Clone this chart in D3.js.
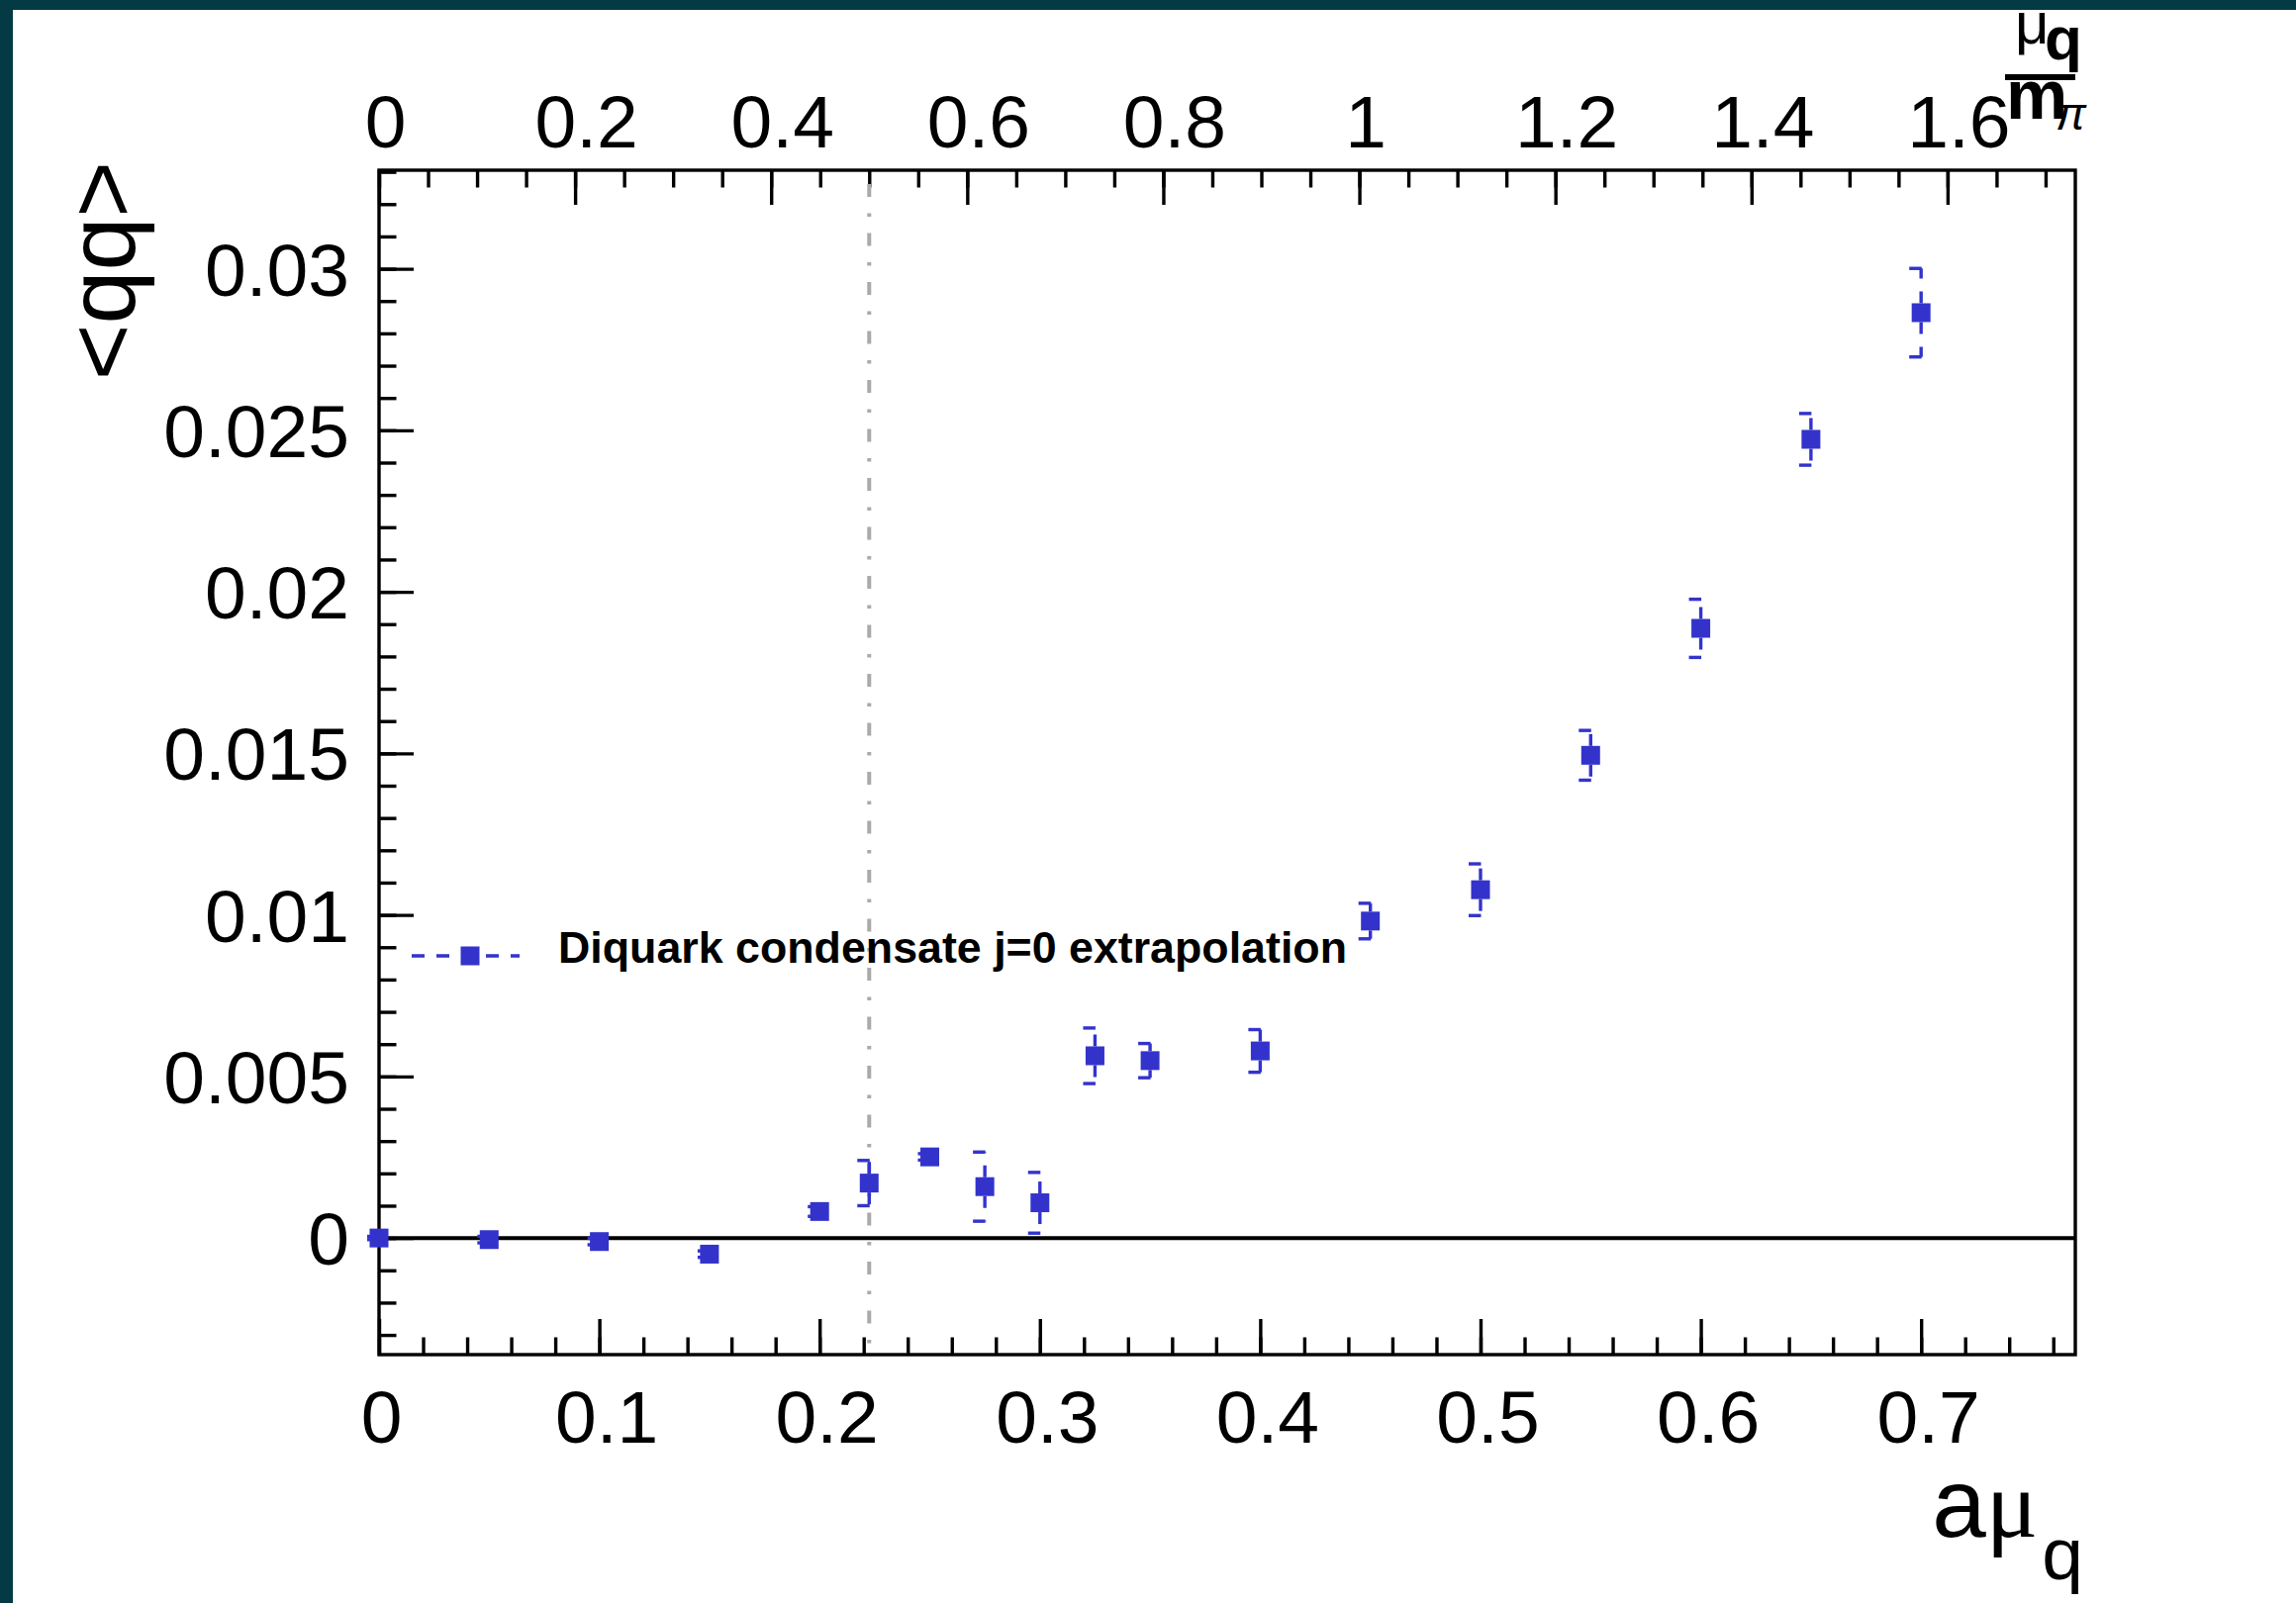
<!DOCTYPE html>
<html>
<head>
<meta charset="utf-8">
<script src="https://cdn.jsdelivr.net/npm/d3@7"></script>
<style>
  html, body { margin: 0; padding: 0; background: #ffffff; }
  svg { display: block; }
  text { font-family: "Liberation Sans", Arial, Helvetica, sans-serif; }
</style>
</head>
<body>
<svg id="chart" width="2320" height="1620"></svg>
<script>
// ---------------- data ----------------
const amuValues = [0, 0.05, 0.1, 0.15, 0.2, 0.2225, 0.25, 0.275, 0.3, 0.325, 0.35, 0.4, 0.45, 0.5, 0.55, 0.6, 0.65, 0.7];
const condensateValues = [0, -0.00005, -0.00011, -0.0005, 0.00082, 0.0017, 0.00251, 0.00159, 0.00109, 0.00564, 0.00549, 0.00579, 0.00981, 0.01078, 0.01494, 0.01887, 0.02472, 0.02864];
const condensateErrors = [0.00005, 0.0001, 0.0001, 0.0001, 0.00015, 0.0007, 0.0001, 0.00107, 0.00094, 0.00086, 0.00053, 0.00066, 0.00055, 0.0008, 0.00077, 0.0009, 0.0008, 0.00137];
const bottomTickLabels = [0, 0.1, 0.2, 0.3, 0.4, 0.5, 0.6, 0.7];
const topTickLabels = [0, 0.2, 0.4, 0.6, 0.8, 1, 1.2, 1.4, 1.6];
const leftTickLabels = [0, 0.005, 0.01, 0.015, 0.02, 0.025, 0.03];
const amPi = 0.445;            // conversion a*m_pi between the bottom and top axes
const halfPionLine = [0.5];    // mu_q / m_pi = 1/2
const legendLabel = "Diquark condensate j=0 extrapolation";

// ---------------- layout ----------------
const W = 2320, H = 1620;
const frame = { left: 383, right: 2097, top: 172, bottom: 1369 };
const blue = "#3333cc";
const lw = 3.4;

const svg = d3.select("#chart");
svg.append("rect").attr("width", W).attr("height", H).attr("fill", "#ffffff");

const xMax = 0.77;
const x = d3.scaleLinear().domain([0, xMax]).range([frame.left, frame.right]);
const xTop = d3.scaleLinear().domain([0, xMax / amPi]).range([frame.left, frame.right]);
const y = d3.scaleLinear().domain([-0.00361, 0.03305]).range([frame.bottom, frame.top]);

const fmtY = d => d === 0 ? "0" : String(+d.toFixed(3));
const fmtX = d => d === 0 ? "0" : String(+d.toFixed(2));

function styleAxis(g, fontSize) {
  g.select(".domain").remove();
  g.selectAll(".tick line").attr("stroke", "#000").attr("stroke-width", lw);
  g.selectAll(".tick text").attr("fill", "#000").attr("font-size", fontSize);
}

// minor ticks
const minorBottom = d3.range(0, 39).map(i => i * 0.02).filter(v => v <= xMax + 1e-9);
const minorTop = d3.range(0, 35).map(i => i * 0.05).filter(v => v <= xMax / amPi + 1e-9);
const minorLeft = d3.range(-3, 34).map(i => i * 0.001);

// bottom axis
const gB = svg.append("g").attr("transform", `translate(0,${frame.bottom})`)
  .call(d3.axisBottom(x).tickValues(bottomTickLabels).tickSize(-36).tickPadding(36).tickFormat(fmtX));
styleAxis(gB, 75);
gB.selectAll(".tick text").attr("dx", function () { return this.textContent.length > 1 ? 7 : 2; });
const gBm = svg.append("g").attr("transform", `translate(0,${frame.bottom})`)
  .call(d3.axisBottom(x).tickValues(minorBottom).tickSize(-17.5).tickFormat(""));
styleAxis(gBm, 75);

// top axis
const gT = svg.append("g").attr("transform", `translate(0,${frame.top})`)
  .call(d3.axisTop(xTop).tickValues(topTickLabels).tickSize(-35).tickPadding(23).tickFormat(fmtX));
styleAxis(gT, 75);
gT.selectAll(".tick text").attr("dx", function () { return this.textContent.length > 1 ? 11 : 6; });
const gTm = svg.append("g").attr("transform", `translate(0,${frame.top})`)
  .call(d3.axisTop(xTop).tickValues(minorTop).tickSize(-17.5).tickFormat(""));
styleAxis(gTm, 75);

// left axis
const gL = svg.append("g").attr("transform", `translate(${frame.left},0)`)
  .call(d3.axisLeft(y).tickValues(leftTickLabels).tickSize(-35).tickPadding(30).tickFormat(fmtY));
styleAxis(gL, 75);
gL.selectAll(".tick text").attr("dy", "0.355em");
const gLm = svg.append("g").attr("transform", `translate(${frame.left},0)`)
  .call(d3.axisLeft(y).tickValues(minorLeft).tickSize(-17.5).tickFormat(""));
styleAxis(gLm, 75);

// frame
svg.append("rect")
  .attr("x", frame.left).attr("y", frame.top)
  .attr("width", frame.right - frame.left).attr("height", frame.bottom - frame.top)
  .attr("fill", "none").attr("stroke", "#000").attr("stroke-width", lw);

// zero line
svg.append("line")
  .attr("x1", frame.left).attr("x2", frame.right)
  .attr("y1", y(0)).attr("y2", y(0))
  .attr("stroke", "#000").attr("stroke-width", 4);

// vertical dash-dotted line at mu/m_pi = 0.5
svg.selectAll(".halfline").data(halfPionLine).enter().append("line")
  .attr("x1", d => xTop(d)).attr("x2", d => xTop(d))
  .attr("y1", frame.top + 14).attr("y2", frame.bottom)
  .attr("stroke", "#aaaaaa").attr("stroke-width", 4)
  .attr("stroke-dasharray", "13,16.5,3.5,16.5");

// data
const points = amuValues.map((v, i) => ({ x: v, y: condensateValues[i], e: condensateErrors[i] }));
const ms = 19, half = ms / 2, cap = 12;
const gErr = svg.append("g");
points.forEach(p => {
  const cx = x(p.x), cy = y(p.y);
  const yHi = y(p.y + p.e), yLo = y(p.y - p.e);
  if (cy - yHi > half) {
    gErr.append("line").attr("x1", cx).attr("x2", cx).attr("y1", cy - half).attr("y2", yHi)
      .attr("stroke", blue).attr("stroke-width", lw).attr("stroke-dasharray", "12,13");
    gErr.append("line").attr("x1", cx).attr("x2", cx).attr("y1", cy + half).attr("y2", yLo)
      .attr("stroke", blue).attr("stroke-width", lw).attr("stroke-dasharray", "12,13");
  }
  [yHi, yLo].forEach(yy => {
    gErr.append("line").attr("x1", cx - cap).attr("x2", cx + cap).attr("y1", yy).attr("y2", yy)
      .attr("stroke", blue).attr("stroke-width", lw).attr("stroke-dasharray", "12.5,13");
  });
});
svg.append("g").selectAll("rect").data(points).enter().append("rect")
  .attr("x", d => x(d.x) - half).attr("y", d => y(d.y) - half)
  .attr("width", ms).attr("height", ms).attr("fill", blue);

// legend
const lgY = 966, lgX0 = 416, lgX1 = 525, lgMx = 475;
svg.append("line").attr("x1", lgX0).attr("x2", lgX1).attr("y1", lgY).attr("y2", lgY)
  .attr("stroke", blue).attr("stroke-width", lw).attr("stroke-dasharray", "13,12");
svg.append("rect").attr("x", lgMx - half).attr("y", lgY - half).attr("width", ms).attr("height", ms).attr("fill", blue);
svg.append("text").attr("x", 564).attr("y", 973)
  .attr("font-size", 44).attr("font-weight", "bold")
  .attr("textLength", 797).attr("lengthAdjust", "spacingAndGlyphs")
  .text(legendLabel);

// x title  a mu_q
const xt = svg.append("text").attr("x", 2105).attr("y", 1553).attr("text-anchor", "end").attr("font-size", 98);
xt.append("tspan").text("a");
xt.append("tspan").attr("font-family", "'Liberation Serif', 'DejaVu Serif', serif").text("μ");
xt.append("tspan").attr("font-size", 75).attr("dy", 43).attr("dx", 4).text("q");

// y title <qq>
svg.append("text")
  .attr("transform", "translate(136,163) rotate(-90)")
  .attr("text-anchor", "end").attr("font-size", 97)
  .text("<qq>");

// top axis title  mu_q / m_pi
const tt = svg.append("g");
tt.append("text").attr("x", 2036).attr("y", 44).attr("font-size", 60)
  .attr("font-family", "'Liberation Serif', 'DejaVu Serif', serif").text("μ");
tt.append("text").attr("x", 2066).attr("y", 60).attr("font-size", 62).attr("font-weight", "bold").text("q");
tt.append("line").attr("x1", 2026).attr("x2", 2097).attr("y1", 78).attr("y2", 78)
  .attr("stroke", "#000").attr("stroke-width", 6);
tt.append("text").attr("x", 2027).attr("y", 120).attr("font-size", 70).attr("font-weight", "bold").text("m");
tt.append("text").attr("x", 2077).attr("y", 131).attr("font-size", 46).attr("font-style", "italic")
  .attr("font-family", "'Liberation Serif', 'DejaVu Serif', serif").text("π");

// dark page border bands (top and left), drawn last as in the screenshot
svg.append("rect").attr("x", 0).attr("y", 0).attr("width", W).attr("height", 10).attr("fill", "#033a43");
svg.append("rect").attr("x", 0).attr("y", 0).attr("width", 13).attr("height", H).attr("fill", "#033a43");
</script>
</body>
</html>
